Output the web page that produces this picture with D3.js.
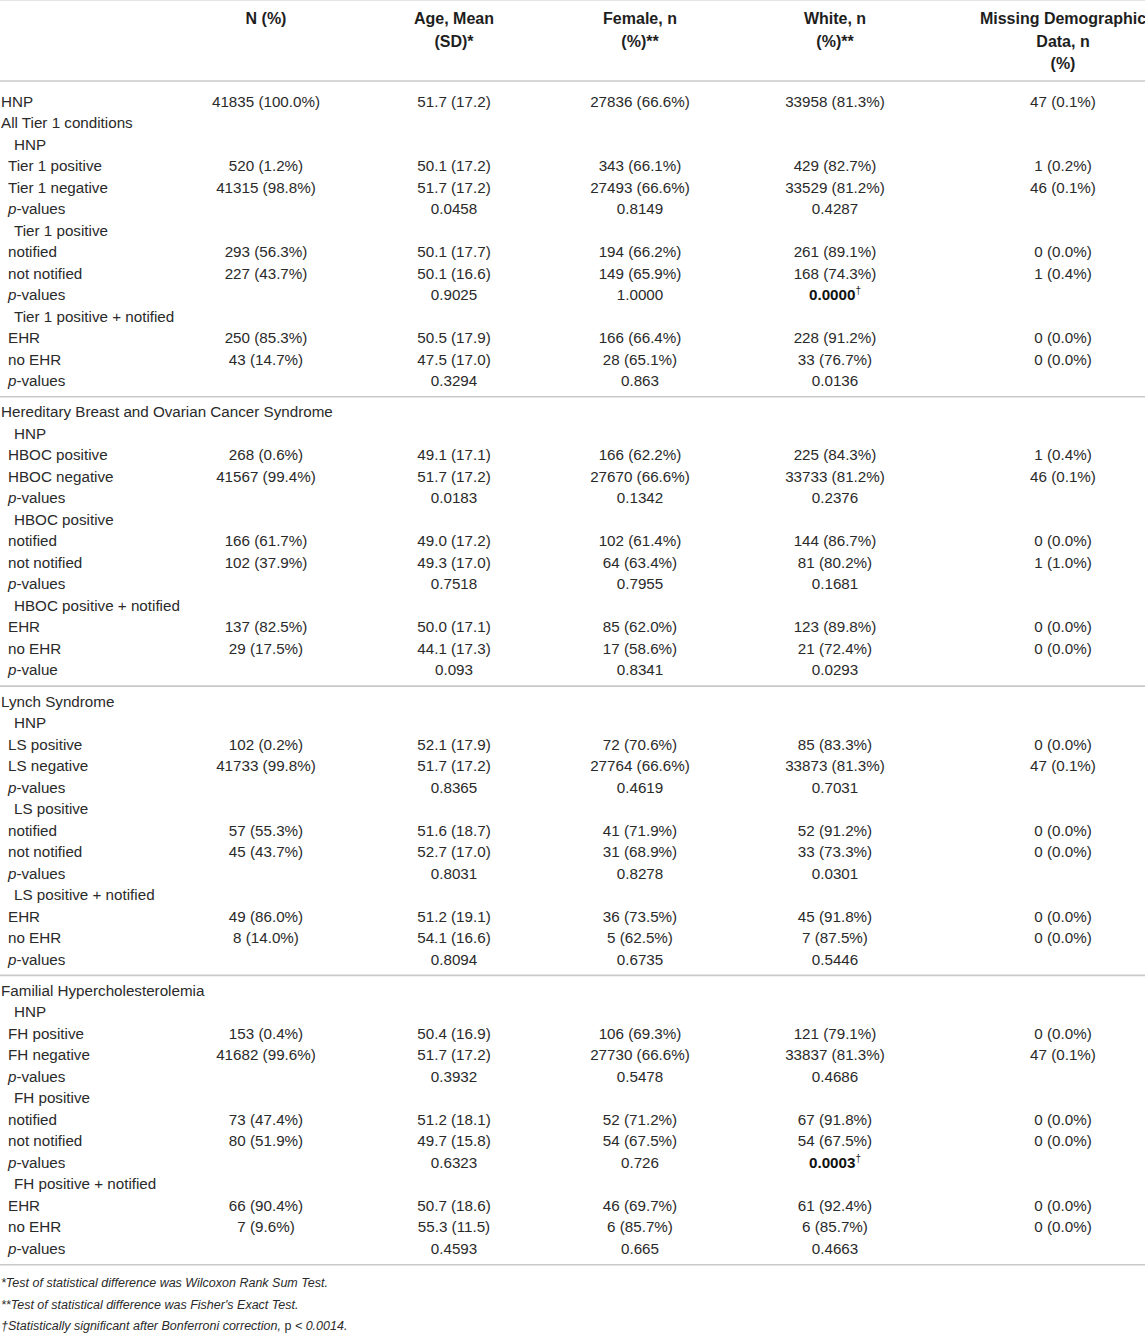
<!DOCTYPE html>
<html>
<head>
<meta charset="utf-8">
<script src="https://cdn.jsdelivr.net/npm/d3@7/dist/d3.min.js"></script>
<style>
  html, body { margin: 0; padding: 0; background: #fff; }
  svg { display: block; }
  text { font-family: "Liberation Sans", Arial, Helvetica, sans-serif; }
</style>
</head>
<body>
<svg id="chart" width="1145" height="1334"></svg>
<script>
// ---------- DATA ----------
const columnKeys = ["n", "age", "female", "white", "missing"];
const headerLines = [
  ["N (%)"],
  ["Age, Mean", "(SD)*"],
  ["Female, n", "(%)**"],
  ["White, n", "(%)**"],
  ["Missing Demographic", "Data, n", "(%)"]
];

// row: [label, level, N (%), Age, Female, White, Missing]
const tier1Rows = [
  ["HNP", 0, "41835 (100.0%)", "51.7 (17.2)", "27836 (66.6%)", "33958 (81.3%)", "47 (0.1%)"],
  ["All Tier 1 conditions", 0, "", "", "", "", ""],
  ["HNP", 2, "", "", "", "", ""],
  ["Tier 1 positive", 1, "520 (1.2%)", "50.1 (17.2)", "343 (66.1%)", "429 (82.7%)", "1 (0.2%)"],
  ["Tier 1 negative", 1, "41315 (98.8%)", "51.7 (17.2)", "27493 (66.6%)", "33529 (81.2%)", "46 (0.1%)"],
  ["p-values", 1, "", "0.0458", "0.8149", "0.4287", ""],
  ["Tier 1 positive", 2, "", "", "", "", ""],
  ["notified", 1, "293 (56.3%)", "50.1 (17.7)", "194 (66.2%)", "261 (89.1%)", "0 (0.0%)"],
  ["not notified", 1, "227 (43.7%)", "50.1 (16.6)", "149 (65.9%)", "168 (74.3%)", "1 (0.4%)"],
  ["p-values", 1, "", "0.9025", "1.0000", "0.0000†", ""],
  ["Tier 1 positive + notified", 2, "", "", "", "", ""],
  ["EHR", 1, "250 (85.3%)", "50.5 (17.9)", "166 (66.4%)", "228 (91.2%)", "0 (0.0%)"],
  ["no EHR", 1, "43 (14.7%)", "47.5 (17.0)", "28 (65.1%)", "33 (76.7%)", "0 (0.0%)"],
  ["p-values", 1, "", "0.3294", "0.863", "0.0136", ""]
];

const hbocRows = [
  ["Hereditary Breast and Ovarian Cancer Syndrome", 0, "", "", "", "", ""],
  ["HNP", 2, "", "", "", "", ""],
  ["HBOC positive", 1, "268 (0.6%)", "49.1 (17.1)", "166 (62.2%)", "225 (84.3%)", "1 (0.4%)"],
  ["HBOC negative", 1, "41567 (99.4%)", "51.7 (17.2)", "27670 (66.6%)", "33733 (81.2%)", "46 (0.1%)"],
  ["p-values", 1, "", "0.0183", "0.1342", "0.2376", ""],
  ["HBOC positive", 2, "", "", "", "", ""],
  ["notified", 1, "166 (61.7%)", "49.0 (17.2)", "102 (61.4%)", "144 (86.7%)", "0 (0.0%)"],
  ["not notified", 1, "102 (37.9%)", "49.3 (17.0)", "64 (63.4%)", "81 (80.2%)", "1 (1.0%)"],
  ["p-values", 1, "", "0.7518", "0.7955", "0.1681", ""],
  ["HBOC positive + notified", 2, "", "", "", "", ""],
  ["EHR", 1, "137 (82.5%)", "50.0 (17.1)", "85 (62.0%)", "123 (89.8%)", "0 (0.0%)"],
  ["no EHR", 1, "29 (17.5%)", "44.1 (17.3)", "17 (58.6%)", "21 (72.4%)", "0 (0.0%)"],
  ["p-value", 1, "", "0.093", "0.8341", "0.0293", ""]
];

const lynchRows = [
  ["Lynch Syndrome", 0, "", "", "", "", ""],
  ["HNP", 2, "", "", "", "", ""],
  ["LS positive", 1, "102 (0.2%)", "52.1 (17.9)", "72 (70.6%)", "85 (83.3%)", "0 (0.0%)"],
  ["LS negative", 1, "41733 (99.8%)", "51.7 (17.2)", "27764 (66.6%)", "33873 (81.3%)", "47 (0.1%)"],
  ["p-values", 1, "", "0.8365", "0.4619", "0.7031", ""],
  ["LS positive", 2, "", "", "", "", ""],
  ["notified", 1, "57 (55.3%)", "51.6 (18.7)", "41 (71.9%)", "52 (91.2%)", "0 (0.0%)"],
  ["not notified", 1, "45 (43.7%)", "52.7 (17.0)", "31 (68.9%)", "33 (73.3%)", "0 (0.0%)"],
  ["p-values", 1, "", "0.8031", "0.8278", "0.0301", ""],
  ["LS positive + notified", 2, "", "", "", "", ""],
  ["EHR", 1, "49 (86.0%)", "51.2 (19.1)", "36 (73.5%)", "45 (91.8%)", "0 (0.0%)"],
  ["no EHR", 1, "8 (14.0%)", "54.1 (16.6)", "5 (62.5%)", "7 (87.5%)", "0 (0.0%)"],
  ["p-values", 1, "", "0.8094", "0.6735", "0.5446", ""]
];

const fhRows = [
  ["Familial Hypercholesterolemia", 0, "", "", "", "", ""],
  ["HNP", 2, "", "", "", "", ""],
  ["FH positive", 1, "153 (0.4%)", "50.4 (16.9)", "106 (69.3%)", "121 (79.1%)", "0 (0.0%)"],
  ["FH negative", 1, "41682 (99.6%)", "51.7 (17.2)", "27730 (66.6%)", "33837 (81.3%)", "47 (0.1%)"],
  ["p-values", 1, "", "0.3932", "0.5478", "0.4686", ""],
  ["FH positive", 2, "", "", "", "", ""],
  ["notified", 1, "73 (47.4%)", "51.2 (18.1)", "52 (71.2%)", "67 (91.8%)", "0 (0.0%)"],
  ["not notified", 1, "80 (51.9%)", "49.7 (15.8)", "54 (67.5%)", "54 (67.5%)", "0 (0.0%)"],
  ["p-values", 1, "", "0.6323", "0.726", "0.0003†", ""],
  ["FH positive + notified", 2, "", "", "", "", ""],
  ["EHR", 1, "66 (90.4%)", "50.7 (18.6)", "46 (69.7%)", "61 (92.4%)", "0 (0.0%)"],
  ["no EHR", 1, "7 (9.6%)", "55.3 (11.5)", "6 (85.7%)", "6 (85.7%)", "0 (0.0%)"],
  ["p-values", 1, "", "0.4593", "0.665", "0.4663", ""]
];

const footnotes = [
  "*Test of statistical difference was Wilcoxon Rank Sum Test.",
  "**Test of statistical difference was Fisher's Exact Test.",
  "†Statistically significant after Bonferroni correction, p < 0.0014."
];

// ---------- LAYOUT ----------
const W = 1145, H = 1334;
const groups = [tier1Rows, hbocRows, lynchRows, fhRows];
const svg = d3.select("#chart");
svg.append("rect").attr("width", W).attr("height", H).attr("fill", "#fff");

const textColor = "#2a2a2a";
const lineColor = "#c8c8c8";
const fontSize = 15.2;
const headerFontSize = 16;

const colX = d3.scaleOrdinal().domain(columnKeys).range([266, 454, 640, 835, 1063]);
const indentX = d3.scaleOrdinal().domain([0, 1, 2]).range([1, 8, 14]);

const rowPitch = 21.5;
const groupGap = 9.8;
const firstBaseline = 106.5;
const rowY = d3.scaleLinear().domain([0, 1]).range([firstBaseline, firstBaseline + rowPitch]);
const headerY = d3.scaleLinear().domain([0, 1]).range([24, 46.5]);

// top border
svg.append("line").attr("x1", 0).attr("x2", W).attr("y1", 0.5).attr("y2", 0.5)
  .attr("stroke", "#e6e6e6").attr("stroke-width", 1);

// header
const hdr = svg.append("g");
headerLines.forEach((lines, ci) => {
  lines.forEach((t, li) => {
    hdr.append("text")
      .attr("x", colX(columnKeys[ci]))
      .attr("y", headerY(li))
      .attr("text-anchor", "middle")
      .attr("font-size", headerFontSize)
      .attr("font-weight", "bold")
      .attr("fill", "#1e1e1e")
      .text(t);
  });
});
svg.append("line").attr("x1", 0).attr("x2", W).attr("y1", 81).attr("y2", 81)
  .attr("stroke", lineColor).attr("stroke-width", 1.6);

// body
let rowIndex = 0;
const body = svg.append("g");
groups.forEach((rows, gi) => {
  rows.forEach((r) => {
    const y = rowY(rowIndex) + gi * groupGap;
    const label = r[0], level = r[1];
    const lt = body.append("text")
      .attr("x", indentX(level))
      .attr("y", y)
      .attr("font-size", fontSize)
      .attr("fill", textColor);
    if (label.startsWith("p-")) {
      lt.append("tspan").attr("font-style", "italic").text("p");
      lt.append("tspan").text(label.slice(1));
    } else {
      lt.text(label);
    }
    columnKeys.forEach((k, ci) => {
      const v = r[2 + ci];
      if (!v) return;
      const t = body.append("text")
        .attr("x", colX(k))
        .attr("y", y)
        .attr("text-anchor", "middle")
        .attr("font-size", fontSize)
        .attr("fill", textColor);
      if (v.endsWith("†")) {
        t.append("tspan").attr("font-weight", "bold").attr("fill", "#111").text(v.slice(0, -1));
        t.append("tspan").attr("font-size", 10).attr("dy", -6).text("†");
      } else {
        t.text(v);
      }
    });
    rowIndex++;
  });
  // separator line after group
  const ly = rowY(rowIndex - 1) + gi * groupGap + 10.8;
  svg.append("line").attr("x1", 0).attr("x2", W).attr("y1", ly).attr("y2", ly)
    .attr("stroke", lineColor).attr("stroke-width", 1.6);
});

// footnotes
const lastLine = rowY(rowIndex - 1) + (groups.length - 1) * groupGap + 10.8;
const fnY = d3.scaleLinear().domain([0, 1]).range([lastLine + 22.5, lastLine + 22.5 + rowPitch]);
footnotes.forEach((f, i) => {
  const t = svg.append("text")
    .attr("x", 1)
    .attr("y", fnY(i))
    .attr("font-size", 12.5)
    .attr("font-style", "italic")
    .attr("fill", textColor);
  const idx = f.indexOf(", p <");
  if (idx >= 0) {
    t.append("tspan").text(f.slice(0, idx + 2));
    t.append("tspan").attr("font-style", "normal").text("p");
    t.append("tspan").text(f.slice(idx + 3));
  } else {
    t.text(f);
  }
});
</script>
</body>
</html>
